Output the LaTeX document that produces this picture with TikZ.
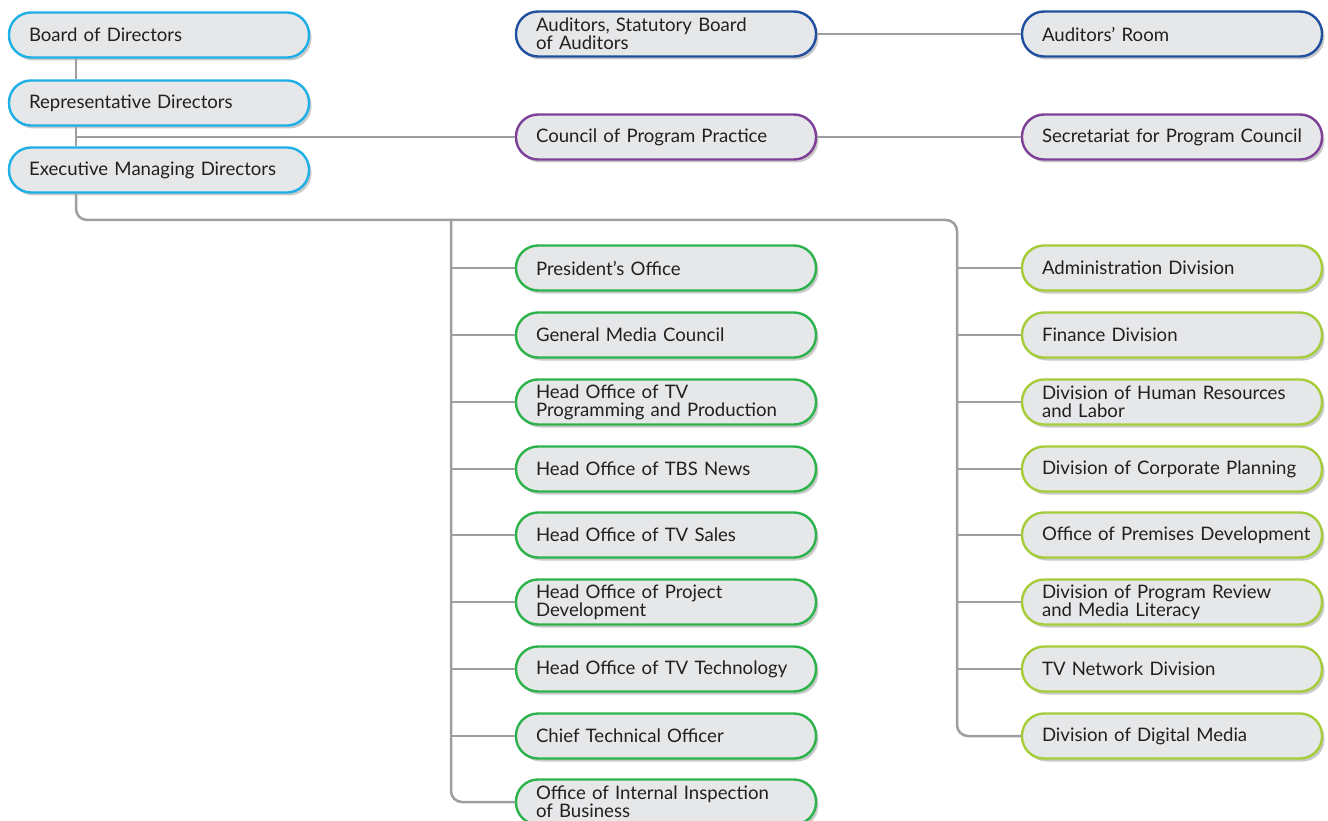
\documentclass[tikz,border=0pt]{standalone}
\usepackage{fontspec}
\setmainfont{Lato}
\usetikzlibrary{shadows}
\definecolor{boxfill}{HTML}{E6E7E9}
\definecolor{cyanc}{HTML}{1DAFE5}
\definecolor{navyc}{HTML}{1F4F9E}
\definecolor{purplec}{HTML}{7D3F98}
\definecolor{greenc}{HTML}{2DB34B}
\definecolor{limec}{HTML}{A5CD3A}
\definecolor{linec}{HTML}{9D9EA2}
\definecolor{textc}{HTML}{231F20}
\tikzset{
  unit/.style={draw=#1, line width=2.4pt, fill=boxfill, rounded corners=22pt,
    minimum width=300pt, minimum height=45pt, text width=260pt, inner xsep=20pt,
    inner ysep=0pt, align=left, text=textc,
    font=\fontsize{18.6}{18.2}\selectfont,
    drop shadow={shadow xshift=2.5pt, shadow yshift=-3pt, opacity=0.35, fill=black!60}},
  conn/.style={draw=linec, line width=2.5pt},
}
\begin{document}
\begin{tikzpicture}[x=1pt,y=-1pt]
\useasboundingbox (0,0) rectangle (1328,821);
% coordinates of trunks
\coordinate (tk) at (76,220);
\coordinate (mb) at (451,220);
\coordinate (hb) at (957,220);
% left column
\node[unit=cyanc] (board) at (159,35) {Board of Directors};
\node[unit=cyanc] (rep) at (159,103) {Representative Directors};
\node[unit=cyanc] (exec) at (159,170) {Executive Managing Directors};
% top middle/right
\node[unit=navyc] (aud) at (666,34) {Auditors, Statutory Board\\of Auditors};
\node[unit=navyc] (audroom) at (1172,34) {Auditors’ Room};
\node[unit=purplec] (council) at (666,137) {Council of Program Practice};
\node[unit=purplec] (secr) at (1172,137) {\mbox{Secretariat for Program Council}};
% green column
\node[unit=greenc] (g1) at (666,268) {President’s Office};
\node[unit=greenc] (g2) at (666,335) {General Media Council};
\node[unit=greenc] (g3) at (666,402) {Head Office of TV\\Programming and Production};
\node[unit=greenc] (g4) at (666,469) {Head Office of TBS News};
\node[unit=greenc] (g5) at (666,535) {Head Office of TV Sales};
\node[unit=greenc] (g6) at (666,602) {Head Office of Project\\Development};
\node[unit=greenc] (g7) at (666,669) {Head Office of TV Technology};
\node[unit=greenc] (g8) at (666,736) {Chief Technical Officer};
\node[unit=greenc] (g9) at (666,802) {Office of Internal Inspection\\of Business};
% lime column
\node[unit=limec] (r1) at (1172,268) {Administration Division};
\node[unit=limec] (r2) at (1172,335) {Finance Division};
\node[unit=limec] (r3) at (1172,402) {Division of Human Resources\\and Labor};
\node[unit=limec] (r4) at (1172,469) {\mbox{Division of Corporate Planning}};
\node[unit=limec] (r5) at (1172,535) {\mbox{Office of Premises Development}};
\node[unit=limec] (r6) at (1172,602) {Division of Program Review\\and Media Literacy};
\node[unit=limec] (r7) at (1172,669) {TV Network Division};
\node[unit=limec] (r8) at (1172,736) {Division of Digital Media};
% connectors
\draw[conn] (board.south -| tk) -- (rep.north -| tk);
\draw[conn] (rep.south -| tk) -- (exec.north -| tk);
\draw[conn] (rep.south -| tk) |- (council.west);
\draw[conn] (council.east) -- (secr.west);
\draw[conn] (aud.east) -- (audroom.west);
\draw[conn, rounded corners=11pt] (exec.south -| tk) |- (hb) |- (r8.west);
\draw[conn, rounded corners=11pt] (mb) |- (g9.west);
\foreach \i in {1,...,8} \draw[conn] (g\i.west -| mb) -- (g\i.west);
\foreach \i in {1,...,7} \draw[conn] (r\i.west -| hb) -- (r\i.west);
\end{tikzpicture}
\end{document}
